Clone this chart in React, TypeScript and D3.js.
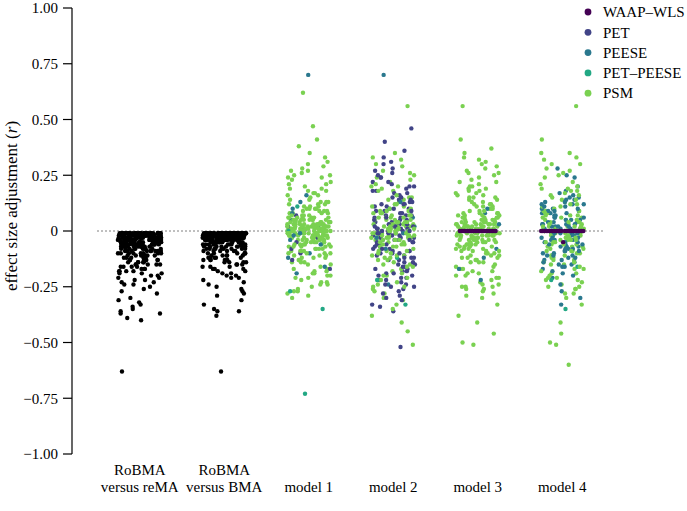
import React from "react";
import * as d3 from "d3";

const W = 687;
const H = 511;

const categories = ["reMA", "BMA", "m1", "m2", "m3", "m4"];
const categoryLabels = [
  ["RoBMA", "versus reMA"],
  ["RoBMA", "versus BMA"],
  ["model 1"],
  ["model 2"],
  ["model 3"],
  ["model 4"],
];
const methods = ["WAAP–WLS", "PET", "PEESE", "PET–PEESE", "PSM"];
const methodColors = ["#440154", "#414487", "#2A788E", "#22A884", "#7AD151"];
const yTicks = [1, 0.75, 0.5, 0.25, 0, -0.25, -0.5, -0.75, -1];
const yTickLabels = ["1.00", "0.75", "0.50", "0.25", "0", "−0.25", "−0.50", "−0.75", "−1.00"];

// RoBMA versus reMA (black)
const reMA = [
  -0.01,-0.02,-0.01,-0.03,-0.02,-0.04,-0.01,-0.02,-0.05,-0.03,
  -0.02,-0.01,-0.04,-0.03,-0.02,-0.06,-0.01,-0.03,-0.02,-0.04,
  -0.05,-0.01,-0.02,-0.03,-0.07,-0.02,-0.04,-0.01,-0.03,-0.06,
  -0.02,-0.05,-0.01,-0.08,-0.03,-0.02,-0.04,-0.01,-0.06,-0.03,
  -0.09,-0.02,-0.05,-0.01,-0.04,-0.07,-0.02,-0.03,-0.10,-0.01,
  -0.06,-0.04,-0.02,-0.08,-0.03,-0.05,-0.01,-0.11,-0.02,-0.07,
  -0.04,-0.09,-0.03,-0.12,-0.02,-0.06,-0.05,-0.01,-0.08,-0.13,
  -0.03,-0.07,-0.10,-0.02,-0.04,-0.14,-0.06,-0.09,-0.01,-0.05,
  -0.11,-0.08,-0.15,-0.03,-0.12,-0.07,-0.16,-0.02,-0.10,-0.04,
  -0.13,-0.06,-0.17,-0.09,-0.11,-0.18,-0.05,-0.14,-0.08,-0.12,
  -0.19,-0.10,-0.15,-0.07,-0.20,-0.13,-0.09,-0.16,-0.11,-0.21,
  -0.14,-0.17,-0.12,-0.22,-0.15,-0.10,-0.18,-0.23,-0.13,-0.16,
  -0.24,-0.19,-0.14,-0.25,-0.17,-0.20,-0.26,-0.12,-0.18,-0.27,
  -0.22,-0.28,-0.15,-0.30,-0.21,-0.31,-0.19,-0.33,-0.24,-0.34,
  -0.36,-0.23,-0.37,-0.37,-0.39,-0.40,-0.32,-0.35,-0.63,-0.06,
  -0.01,-0.02,-0.03,-0.04,-0.01,-0.02,-0.05,-0.03,-0.02,-0.01,
  -0.04,-0.02,-0.06,-0.01,-0.03,-0.05,-0.02,-0.07,-0.01,-0.04,
  -0.03,-0.08,-0.02,-0.05,-0.01,-0.06,-0.03,-0.09,-0.02,-0.04,
  -0.01,-0.02,-0.03,-0.01,-0.04,-0.02,-0.05,-0.01,-0.03,-0.02,
  -0.06,-0.01,-0.04,-0.02,-0.03,-0.07,-0.01,-0.05,-0.02,-0.08,
  -0.03,-0.01,-0.04,-0.06,-0.02,-0.09,-0.01,-0.03,-0.05,-0.02,
  -0.10,-0.04,-0.01,-0.07,-0.03,-0.02,-0.11,-0.05,-0.01,-0.06,
  -0.02,-0.04,-0.08,-0.03,-0.12,-0.01,-0.05,-0.02,-0.09,-0.04,
  -0.01,-0.03,-0.06,-0.02,-0.07,-0.01,-0.10,-0.04,-0.02,-0.05,
  -0.13,-0.03,-0.01,-0.08,-0.02,-0.06,-0.04,-0.11,-0.01,-0.03,
  -0.05,-0.02,-0.09,-0.14,-0.01,-0.04,-0.07,-0.02,-0.03,-0.12,
  -0.06,-0.01,-0.15,-0.05,-0.02,-0.08,-0.03,-0.10,-0.04,-0.16,
  -0.01,-0.07,-0.02,-0.13,-0.05,-0.03,-0.09,-0.18,-0.06,-0.11,
];

// RoBMA versus BMA (black)
const BMA = [
  -0.01,-0.01,-0.02,-0.01,-0.03,-0.01,-0.02,-0.01,-0.02,-0.04,
  -0.01,-0.02,-0.01,-0.03,-0.01,-0.02,-0.05,-0.01,-0.02,-0.03,
  -0.01,-0.04,-0.02,-0.01,-0.03,-0.01,-0.06,-0.02,-0.01,-0.02,
  -0.03,-0.01,-0.05,-0.02,-0.01,-0.04,-0.07,-0.01,-0.03,-0.02,
  -0.01,-0.08,-0.02,-0.04,-0.01,-0.03,-0.06,-0.02,-0.09,-0.01,
  -0.05,-0.03,-0.10,-0.02,-0.04,-0.07,-0.01,-0.11,-0.03,-0.06,
  -0.02,-0.08,-0.12,-0.04,-0.05,-0.13,-0.01,-0.09,-0.07,-0.14,
  -0.03,-0.10,-0.15,-0.06,-0.11,-0.08,-0.16,-0.02,-0.12,-0.17,
  -0.05,-0.13,-0.09,-0.18,-0.04,-0.14,-0.19,-0.10,-0.07,-0.20,
  -0.15,-0.12,-0.21,-0.08,-0.16,-0.22,-0.11,-0.17,-0.23,-0.13,
  -0.25,-0.18,-0.26,-0.14,-0.27,-0.20,-0.28,-0.29,-0.31,-0.33,
  -0.35,-0.36,-0.36,-0.38,-0.63,-0.24,-0.01,-0.02,-0.01,-0.03,
  -0.02,-0.01,-0.04,-0.02,-0.01,-0.03,-0.05,-0.01,-0.02,-0.01,
  -0.03,-0.02,-0.06,-0.01,-0.04,-0.02,-0.01,-0.03,-0.02,-0.05,
  -0.01,-0.02,-0.07,-0.03,-0.01,-0.04,-0.02,-0.01,-0.08,-0.03,
  -0.02,-0.01,-0.05,-0.02,-0.03,-0.01,-0.06,-0.02,-0.04,-0.01,
  -0.01,-0.01,-0.02,-0.01,-0.03,-0.02,-0.01,-0.04,-0.01,-0.02,
  -0.03,-0.01,-0.05,-0.02,-0.01,-0.03,-0.06,-0.01,-0.02,-0.04,
  -0.01,-0.07,-0.02,-0.03,-0.01,-0.05,-0.02,-0.08,-0.01,-0.03,
  -0.04,-0.02,-0.01,-0.06,-0.09,-0.02,-0.01,-0.03,-0.05,-0.01,
  -0.10,-0.02,-0.04,-0.01,-0.07,-0.03,-0.02,-0.11,-0.01,-0.06,
  -0.02,-0.04,-0.01,-0.08,-0.03,-0.05,-0.12,-0.01,-0.02,-0.09,
  -0.03,-0.01,-0.06,-0.04,-0.13,-0.02,-0.07,-0.01,-0.10,-0.05,
  -0.02,-0.03,-0.14,-0.01,-0.08,-0.04,-0.11,-0.02,-0.06,-0.15,
  -0.01,-0.03,-0.09,-0.05,-0.17,-0.02,-0.12,-0.07,-0.04,-0.19,
  -0.01,-0.02,-0.10,-0.03,-0.13,-0.06,-0.01,-0.16,-0.08,-0.21,
];

// model 1
const m1PSM = [
  0.01,-0.01,0.02,-0.02,0.00,0.03,-0.03,0.01,-0.01,0.04,
  -0.04,0.02,0.00,-0.02,0.05,0.01,-0.05,0.03,-0.01,0.00,
  0.06,-0.03,0.02,-0.06,0.01,0.04,-0.02,0.00,0.07,-0.04,
  0.03,-0.01,-0.07,0.05,0.02,-0.03,0.08,-0.05,0.01,0.00,
  -0.08,0.04,-0.02,0.06,-0.06,0.03,0.09,-0.01,0.02,-0.09,
  0.10,-0.04,0.05,-0.10,0.01,0.07,-0.03,0.11,-0.07,0.00,
  0.12,-0.11,0.04,-0.05,0.08,-0.12,0.02,0.13,-0.08,0.06,
  -0.13,0.14,-0.02,0.09,-0.14,0.15,-0.06,0.03,-0.15,0.16,
  0.10,-0.16,0.17,-0.09,0.05,-0.17,0.18,-0.10,0.19,-0.18,
  0.20,-0.19,0.11,0.21,-0.20,0.22,-0.12,0.23,-0.21,0.24,
  -0.22,0.25,-0.23,0.26,-0.24,0.27,-0.25,0.28,-0.26,0.30,
  -0.27,0.31,-0.28,0.35,-0.29,0.41,-0.30,0.47,0.62,-0.07,
  0.01,-0.01,0.02,-0.02,0.03,0.00,-0.03,0.01,0.04,-0.02,
  0.02,-0.04,0.00,0.05,-0.01,0.03,-0.05,0.01,0.06,-0.03,
  0.12,-0.14,0.17,0.19,-0.18,0.13,0.24,-0.23,0.29,-0.20,
  0.00,0.01,-0.01,0.02,-0.02,0.00,0.03,-0.03,0.01,-0.01,
  0.04,-0.04,0.02,0.00,-0.02,0.05,-0.05,0.01,0.03,-0.01,
  0.06,-0.06,0.00,0.02,-0.03,0.07,-0.07,0.01,-0.02,0.04,
  0.08,-0.08,0.00,0.03,-0.04,0.09,-0.09,0.02,-0.01,0.05,
  -0.05,0.10,-0.10,0.01,0.06,-0.06,0.00,0.11,-0.11,0.03,
  -0.03,0.07,-0.07,0.12,-0.12,0.02,-0.02,0.08,-0.08,0.04,
  0.14,-0.13,0.00,0.09,-0.09,0.05,-0.04,0.16,-0.15,0.01,
  -0.01,0.10,-0.10,0.18,-0.17,0.06,-0.06,0.21,-0.21,0.02,
  0.25,-0.24,0.33,-0.27,0.38,-0.19,0.27,-0.14,0.13,-0.11,
];
const m1PEESE = [0.70,0.16,0.13,0.10,0.08,0.05,0.02,-0.01,-0.04,-0.06,-0.10,-0.12,-0.16,-0.19,0.04,-0.02];
const m1PETPEESE = [-0.73,-0.35,-0.27,0.11,0.00];
const m1PET = [-0.03,-0.08,-0.13,-0.17,0.02,-0.05,0.00,-0.10,0.07];

// model 2
const m2PET = [
  0.46,0.40,0.36,0.31,0.28,0.26,0.24,0.24,0.21,0.20,
  0.18,0.18,0.15,0.14,0.13,0.12,0.12,0.10,0.09,0.08,
  0.07,0.06,0.05,0.05,0.04,0.03,0.02,0.02,0.01,0.00,
  -0.01,-0.01,-0.02,-0.03,-0.04,-0.04,-0.05,-0.06,-0.07,-0.08,
  -0.09,-0.10,-0.11,-0.12,-0.13,-0.14,-0.15,-0.16,-0.17,-0.18,
  -0.19,-0.20,-0.21,-0.22,-0.24,-0.25,-0.27,-0.29,-0.31,-0.33,
  -0.36,-0.52,0.03,-0.03,0.06,-0.06,0.09,-0.09,0.11,-0.12,
  0.01,-0.02,0.04,-0.05,0.07,-0.08,0.15,-0.14,0.19,-0.17,
  -0.21,0.22,-0.24,0.13,-0.10,0.00,-0.01,0.02,-0.26,0.17,
  0.02,-0.02,0.05,-0.04,0.00,0.08,-0.07,0.11,-0.10,0.14,
  -0.13,0.01,-0.01,0.17,-0.16,0.20,-0.19,0.03,-0.05,0.25,
  -0.23,0.06,-0.08,0.30,-0.28,0.10,-0.11,-0.15,0.33,-0.30,
  0.04,-0.03,0.07,-0.06,0.09,-0.09,0.12,-0.12,-0.18,-0.20,
  0.01,0.00,-0.01,-0.04,0.16,-0.22,-0.25,0.22,-0.34,0.27,
];
const m2PSM = [
  0.56,0.35,0.33,0.30,0.27,0.25,0.22,0.20,0.18,0.16,
  0.14,0.13,0.11,0.10,0.09,0.08,0.07,0.06,0.05,0.04,
  0.03,0.03,0.02,0.02,0.01,0.01,0.00,0.00,-0.01,-0.01,
  -0.02,-0.02,-0.03,-0.03,-0.04,-0.05,-0.06,-0.07,-0.08,-0.09,
  -0.10,-0.11,-0.12,-0.13,-0.15,-0.17,-0.19,-0.20,-0.22,-0.24,
  -0.25,-0.26,-0.28,-0.30,-0.33,-0.38,-0.41,-0.45,-0.51,0.01,
  0.02,-0.01,0.04,-0.02,0.05,-0.04,0.07,-0.05,0.00,0.03,
  -0.03,0.01,-0.06,0.06,-0.02,0.08,-0.07,0.12,-0.09,0.15,
  -0.11,0.19,-0.14,0.24,-0.16,0.00,0.02,-0.01,0.01,-0.03,
  0.03,0.05,-0.04,0.09,-0.25,0.29,-0.18,0.21,-0.23,-0.21,
  0.01,-0.01,0.03,-0.02,0.00,0.05,-0.04,0.02,-0.06,0.07,
  -0.08,0.04,-0.03,0.10,-0.10,0.00,0.12,-0.13,0.06,-0.05,
  0.15,-0.16,0.02,-0.01,0.18,-0.20,0.08,-0.09,0.23,-0.27,
  0.01,-0.02,0.04,-0.04,0.26,-0.31,0.11,-0.12,0.32,-0.35,
  0.00,0.03,-0.03,0.06,-0.07,0.09,-0.11,0.14,-0.15,0.20,
];
const m2PEESE = [0.70,0.13,0.06,0.02,-0.03,-0.08,-0.01,0.10,-0.24];
const m2PETPEESE = [-0.33,-0.22,-0.12];

// model 3
const m3PSM = [
  0.56,0.41,0.37,0.35,0.33,0.31,0.29,0.28,0.26,0.25,
  0.24,0.22,0.21,0.20,0.19,0.18,0.17,0.16,0.15,0.14,
  0.13,0.12,0.11,0.10,0.10,0.09,0.08,0.08,0.07,0.06,
  0.06,0.05,0.05,0.04,0.04,0.03,0.03,0.02,0.02,0.02,
  0.01,0.01,0.01,0.00,0.00,0.00,-0.01,-0.01,-0.01,-0.02,
  -0.02,-0.02,-0.03,-0.03,-0.04,-0.04,-0.05,-0.05,-0.06,-0.06,
  -0.07,-0.08,-0.08,-0.09,-0.10,-0.10,-0.11,-0.12,-0.13,-0.14,
  -0.15,-0.16,-0.17,-0.18,-0.19,-0.20,-0.21,-0.22,-0.24,-0.25,
  -0.25,-0.26,-0.27,-0.29,-0.33,-0.38,-0.41,-0.46,-0.50,-0.51,
  0.01,-0.01,0.02,-0.02,0.03,-0.03,0.00,0.04,-0.04,0.05,
  -0.05,0.01,-0.01,0.06,-0.06,0.02,-0.02,0.07,-0.07,0.03,
  -0.03,0.00,0.09,-0.09,0.12,-0.12,0.15,-0.14,0.18,-0.17,
  0.08,-0.08,0.11,-0.11,0.04,-0.04,0.20,-0.19,0.26,-0.23,
  0.00,0.01,-0.01,0.02,-0.02,0.00,0.03,-0.03,0.01,-0.01,
  0.04,-0.04,0.02,0.00,-0.02,0.05,-0.05,0.01,0.03,-0.01,
  0.06,-0.06,0.00,0.02,-0.03,0.07,-0.07,0.01,-0.02,0.04,
  0.08,-0.08,0.00,0.03,-0.04,0.09,-0.09,0.02,-0.01,0.05,
  -0.05,0.10,-0.10,0.01,0.06,-0.06,0.11,-0.11,0.03,-0.03,
  0.13,-0.13,0.07,-0.07,0.15,-0.16,0.04,-0.04,0.17,-0.18,
  0.12,-0.14,0.19,-0.20,0.22,-0.24,0.14,-0.12,0.27,-0.28,
  0.30,-0.26,0.16,-0.21,0.23,-0.25,0.32,-0.30,0.05,-0.09,
];
const m3PEESE = [0.10,0.08,-0.08,-0.12,-0.17,-0.22,0.03];
const m3WAAP = [0,0,0,0,0,0,0,0,0,0,0,0,0,0,0,0,0,0,0,0,0,0,0,0];

// model 4
const m4PSM = [
  0.56,0.41,0.35,0.33,0.32,0.30,0.28,0.27,0.25,0.22,
  0.20,0.18,0.16,0.14,0.12,0.10,0.09,0.07,0.06,0.05,
  0.04,0.03,0.02,0.02,0.01,0.01,0.00,0.00,-0.01,-0.01,
  -0.02,-0.03,-0.04,-0.05,-0.06,-0.07,-0.08,-0.09,-0.10,-0.11,
  -0.12,-0.14,-0.15,-0.17,-0.19,-0.20,-0.21,-0.23,-0.24,-0.25,
  -0.26,-0.28,-0.30,-0.33,-0.41,-0.46,-0.50,-0.51,-0.60,0.03,
  -0.03,0.05,-0.05,0.08,-0.06,0.11,-0.08,0.13,-0.11,0.15,
  -0.13,0.17,-0.16,0.01,-0.02,0.04,-0.04,0.06,-0.07,0.09,
  -0.09,0.19,-0.18,0.24,-0.22,0.00,-0.01,0.02,-0.12,0.07,
  0.01,-0.01,0.03,-0.02,0.00,0.05,-0.04,0.07,-0.06,0.02,
  -0.08,0.10,-0.10,0.04,-0.03,0.12,-0.13,0.00,0.14,-0.15,
  0.06,-0.07,0.18,-0.19,0.21,-0.22,0.01,-0.05,0.26,-0.25,
  0.30,-0.28,0.09,-0.11,0.16,-0.17,0.02,-0.02,0.35,-0.26,
  0.00,-0.01,0.04,-0.09,0.11,-0.14,0.19,-0.21,0.08,-0.04,
];
const m4PEESE = [
  0.28,0.25,0.24,0.16,0.15,0.14,0.13,0.12,0.11,0.10,
  0.09,0.08,0.07,0.06,0.05,0.05,0.04,0.03,0.03,0.02,
  0.02,0.01,0.01,0.00,-0.01,-0.01,-0.02,-0.02,-0.03,-0.04,
  -0.04,-0.05,-0.06,-0.07,-0.08,-0.09,-0.10,-0.11,-0.12,-0.13,
  -0.14,-0.15,-0.16,-0.17,-0.19,-0.21,-0.24,-0.27,-0.30,-0.33,
  0.06,-0.06,0.09,-0.09,0.04,-0.03,0.12,-0.11,0.02,-0.05,
  0.00,-0.07,0.08,0.10,-0.08,
  0.01,-0.01,0.03,-0.02,0.05,-0.04,0.07,-0.06,0.09,-0.08,
  0.11,-0.10,0.13,-0.12,0.02,-0.03,0.15,-0.14,0.04,-0.05,
  0.17,-0.16,0.06,-0.07,0.20,-0.18,0.08,-0.09,0.00,-0.20,
  0.10,-0.13,0.12,-0.11,0.14,-0.15,0.18,-0.01,0.03,-0.02,
];
const m4PETPEESE = [-0.35,-0.22,-0.16];
const m4WAAP = [0,0,0,0,0,0,0,0,0,0,0,0,0,-0.05,0,0,0,0,0,0,0,0,0,0,0,0];

// method index: -1 = black (RoBMA), else index in methods
const groupSeries: { method: number; values: number[] }[][] = [
  [{ method: -1, values: reMA }],
  [{ method: -1, values: BMA }],
  [
    { method: 4, values: m1PSM },
    { method: 2, values: m1PEESE },
    { method: 3, values: m1PETPEESE },
    { method: 1, values: m1PET },
  ],
  [
    { method: 4, values: m2PSM },
    { method: 1, values: m2PET },
    { method: 2, values: m2PEESE },
    { method: 3, values: m2PETPEESE },
  ],
  [
    { method: 4, values: m3PSM },
    { method: 2, values: m3PEESE },
    { method: 0, values: m3WAAP },
  ],
  [
    { method: 4, values: m4PSM },
    { method: 2, values: m4PEESE },
    { method: 3, values: m4PETPEESE },
    { method: 0, values: m4WAAP },
  ],
];

// deterministic hash used only to spread points horizontally (jitter layout)
const hash = (a: number, b: number) => {
  const s = Math.sin(a * 12.9898 + b * 78.233) * 43758.5453;
  return s - Math.floor(s);
};

export default function App() {
  const x = d3.scaleBand<string>().domain(categories).range([97.5, 604.5]).padding(0);
  const y = d3.scaleLinear().domain([-1, 1]).range([454, 8]);
  const half = x.step() * 0.26;
  const font = "'Liberation Serif', 'Times New Roman', Times, serif";

  type P = { cx: number; cy: number; fill: string; order: number };
  const pts: P[] = [];
  groupSeries.forEach((series, gi) => {
    const c = (x(categories[gi]) as number) + x.bandwidth() / 2;
    let k = 0;
    series.forEach((s) => {
      const wide = s.method === 0;
      s.values.forEach((v, j) => {
        const f = wide ? (j + 0.5) / s.values.length : hash(k + 1, gi + 1);
        pts.push({
          cx: c + (f * 2 - 1) * half * (wide && gi === 4 ? 0.85 : 1),
          cy: y(v),
          fill: s.method < 0 ? "#000000" : methodColors[s.method],
          order: wide ? 2 + j : hash(k + 7, gi + 31),
        });
        k++;
      });
    });
  });
  pts.sort((a, b) => a.order - b.order);

  return (
    <svg
      width={W}
      height={H}
      style={{ position: "absolute", left: 0, top: 0, background: "#fff" }}
      fontFamily={font}
    >
      {/* y axis */}
      <line x1={72} x2={72} y1={y(1)} y2={y(-1)} stroke="#000" strokeWidth={1.2} />
      {yTicks.map((t, i) => (
        <g key={i}>
          <line x1={63} x2={72} y1={y(t)} y2={y(t)} stroke="#000" strokeWidth={1.2} />
          <text x={58} y={y(t)} dy="0.35em" textAnchor="end" fontSize={15}>
            {yTickLabels[i]}
          </text>
        </g>
      ))}
      <text
        transform={`translate(17,206) rotate(-90)`}
        textAnchor="middle"
        fontSize={17}
      >
        effect size adjustment (<tspan fontStyle="italic">r</tspan>)
      </text>

      {/* zero reference line */}
      <line
        x1={x.range()[0]}
        x2={x.range()[1]}
        y1={y(0)}
        y2={y(0)}
        stroke="#000"
        strokeWidth={1}
        strokeDasharray="1 3"
      />

      {/* points */}
      {pts.map((p, i) => (
        <circle key={i} cx={p.cx} cy={p.cy} r={2.2} fill={p.fill} />
      ))}

      {/* category labels */}
      {categoryLabels.map((lines, i) => {
        const c = (x(categories[i]) as number) + x.bandwidth() / 2;
        return (
          <text key={i} x={c} textAnchor="middle" fontSize={15}>
            {lines.map((l, j) => (
              <tspan key={j} x={c} y={lines.length === 2 ? 475 + j * 17 : 492}>
                {l}
              </tspan>
            ))}
          </text>
        );
      })}

      {/* legend */}
      {methods.map((m, i) => (
        <g key={m} transform={`translate(0,${12 + i * 20.3})`}>
          <circle cx={588} cy={0} r={3.4} fill={methodColors[i]} />
          <text x={603} y={0} dy="0.35em" fontSize={15}>
            {m}
          </text>
        </g>
      ))}
    </svg>
  );
}
